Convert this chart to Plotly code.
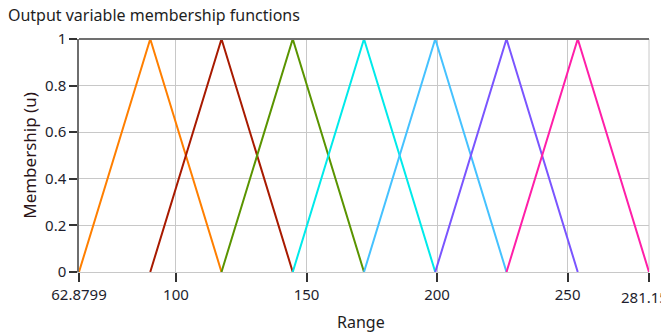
import plotly.graph_objects as go

# Data
x_left = [62.8799, 90.1637, 117.4475, 144.7313, 172.0150, 199.2988, 226.5826]
x_peak = [90.1637, 117.4475, 144.7313, 172.0150, 199.2988, 226.5826, 253.8664]
x_right = [117.4475, 144.7313, 172.0150, 199.2988, 226.5826, 253.8664, 281.15]
colors = ["#FF7F00", "#A81A00", "#5A9400", "#00EAEA", "#45C2FF", "#7A55FF", "#FF1FA8"]
x_tickvals = [62.8799, 100, 150, 200, 250, 281.15]
x_ticktext = ["62.8799", "100", "150", "200", "250", "281.15"]
y_tickvals = [0, 0.2, 0.4, 0.6, 0.8, 1]
y_ticktext = ["0", "0.2", "0.4", "0.6", "0.8", "1"]
x_title = "Range"
y_title = "Membership (u)"

fig = go.Figure()
for a, b, c, col in zip(x_left, x_peak, x_right, colors):
    fig.add_trace(go.Scatter(x=[a, b, c], y=[0, 1, 0], mode="lines",
                             line=dict(color=col, width=2), showlegend=False,
                             hoverinfo="skip"))

font = "Noto Sans, Open Sans, sans-serif"
fig.update_layout(
    width=661, height=333,
    margin=dict(l=79, r=12, t=39, b=61, autoexpand=False),
    paper_bgcolor="white", plot_bgcolor="white",
    font=dict(family=font, size=15, color="#1e1e2e"),
    title=dict(text="Output variable membership functions", x=0.012, xanchor="left",
               y=0.953, yanchor="middle", font=dict(size=16, color="#1e1e1e", family=font)),
)
fig.update_xaxes(range=[62.8799, 281.15], tickmode="array", tickvals=x_tickvals,
                 ticktext=x_ticktext[:-1] + [""], ticks="outside", ticklen=9, tickcolor="#333",
                 tickwidth=1.5, showgrid=True, gridcolor="#C8C8C8", gridwidth=1,
                 tickfont=dict(size=15), automargin=False,
                 zeroline=False, showline=True, linecolor="#C8C8C8", mirror=False)
fig.update_yaxes(range=[0, 1], tickmode="array", tickvals=y_tickvals, ticktext=y_ticktext,
                 ticks="outside", ticklen=8, tickcolor="#333", tickwidth=1.5,
                 tickfont=dict(size=15), automargin=False,
                 showgrid=True, gridcolor="#C8C8C8", gridwidth=1, zeroline=False,
                 showline=True, linecolor="#6e6e6e", linewidth=1.5,
                 title=dict(text=y_title, standoff=4, font=dict(size=17, color="#2a1418")))
# last tick label (clipped at the right edge as in the reference)
fig.add_annotation(x=x_tickvals[-1], xref="x", y=0, yref="paper", yshift=-13, xshift=-5,
                   text=x_ticktext[-1], showarrow=False, xanchor="center", yanchor="top",
                   font=dict(size=15, color="#1e1e2e", family=font))
# x-axis title
fig.add_annotation(x=0.495, xref="paper", y=0, yref="paper", yshift=-50,
                   text=x_title, showarrow=False, xanchor="center", yanchor="middle",
                   font=dict(size=16, color="#1e1e1e", family=font))
# top border dark, right border light
fig.add_shape(type="line", xref="paper", yref="paper", x0=0, x1=1, y0=1, y1=1,
              line=dict(color="#707070", width=2), layer="above")
fig.add_shape(type="line", xref="paper", yref="paper", x0=1, x1=1, y0=0, y1=1,
              line=dict(color="#C8C8C8", width=1), layer="below")
fig.write_html("out.html")
